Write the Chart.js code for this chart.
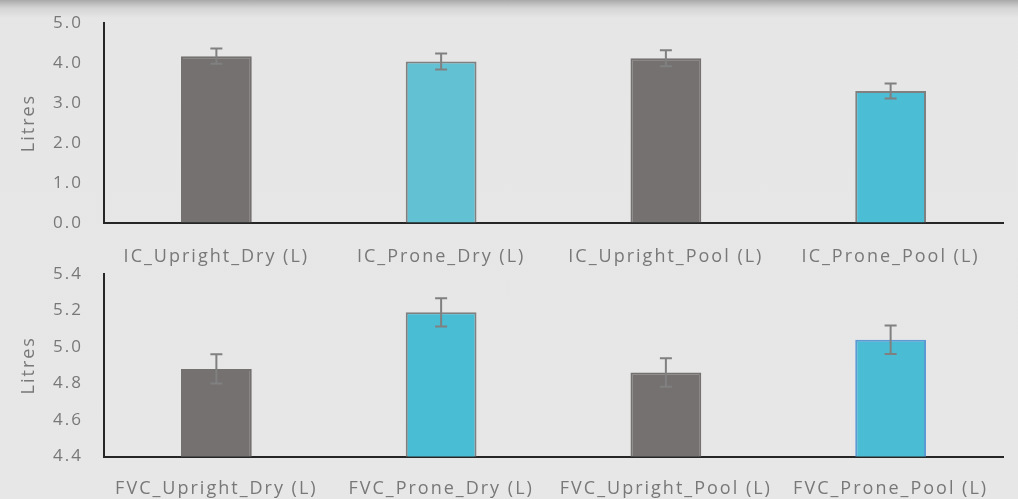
<!DOCTYPE html>
<html>
<head>
<meta charset="utf-8">
<script src="https://cdn.jsdelivr.net/npm/chart.js@4.4.0/dist/chart.umd.min.js"></script>
<style>
  html, body { margin: 0; padding: 0; }
  body {
    width: 1018px; height: 499px; overflow: hidden; position: relative;
    background: linear-gradient(to bottom, #a9a9a9 0px, #d4d4d4 8px, #e6e6e6 18px, #e7e7e7 100%);
  }
  .box { position: absolute; left: 0; width: 1018px; }
  #top-box { top: 0; height: 272px; z-index: 2; }
  #bottom-box { top: 262px; height: 237px; z-index: 1; }
</style>
</head>
<body>
<div class="box" id="top-box"><canvas id="ic-chart"></canvas></div>
<div class="box" id="bottom-box"><canvas id="fvc-chart"></canvas></div>
<script>
// --- dados ---
const icLabels = ['IC_Upright_Dry (L)', 'IC_Prone_Dry (L)', 'IC_Upright_Pool (L)', 'IC_Prone_Pool (L)'];
const icValues = [4.17, 4.04, 4.12, 3.30];
const icErrors = [0.19, 0.20, 0.20, 0.19];

const fvcLabels = ['FVC_Upright_Dry (L)', 'FVC_Prone_Dry (L)', 'FVC_Upright_Pool (L)', 'FVC_Prone_Pool (L)'];
const fvcValues = [4.88, 5.19, 4.86, 5.04];
const fvcErrors = [0.08, 0.077, 0.078, 0.078];

// --- estilos ---
const GRAY = '#757171';
const TEXT = '#787878';
const icFill = [GRAY, '#62c2d4', GRAY, '#4bbdd5'];
const icBorder = [GRAY, '#808080', GRAY, '#808080'];
const fvcFill = [GRAY, '#48bdd4', GRAY, '#4abdd4'];
const fvcBorder = [GRAY, '#808080', GRAY, '#5b9bd5'];

// espaçamento entre letras, como no original
const spacing = {
    id: 'spacing',
    beforeLayout(chart) { chart.ctx.letterSpacing = '2px'; },
    beforeDraw(chart) { chart.ctx.letterSpacing = '2px'; }
};

// plugin simples para desenhar barras de erro
const errorBars = {
    id: 'errorBars',
    afterDatasetsDraw(chart, args, opts) {
        const ctx = chart.ctx;
        const meta = chart.getDatasetMeta(0);
        const yScale = chart.scales.y;
        const values = chart.data.datasets[0].data;
        ctx.save();
        ctx.strokeStyle = '#808080';
        ctx.lineWidth = 2;
        meta.data.forEach((bar, i) => {
            const x = bar.x;
            const yTop = yScale.getPixelForValue(values[i] + opts.errors[i]);
            const yBot = yScale.getPixelForValue(values[i] - opts.errors[i]);
            ctx.beginPath();
            ctx.moveTo(x, yTop); ctx.lineTo(x, yBot);
            ctx.moveTo(x - 6, yTop); ctx.lineTo(x + 6, yTop);
            ctx.moveTo(x - 6, yBot); ctx.lineTo(x + 6, yBot);
            ctx.stroke();
        });
        ctx.restore();
    }
};

Chart.defaults.font.family = '"Open Sans", "Liberation Sans", sans-serif';
Chart.defaults.color = TEXT;

function buildChart(canvasId, labels, values, errors, fill, border, yOpts, pad, xHeight, xPad) {
    const ctx = document.getElementById(canvasId).getContext('2d');
    return new Chart(ctx, {
        type: 'bar',
        data: {
            labels: labels,
            datasets: [{
                data: values,
                backgroundColor: fill,
                borderColor: border,
                borderWidth: 2,
                barPercentage: 0.315,
                categoryPercentage: 1
            }]
        },
        options: {
            responsive: true,
            maintainAspectRatio: false,
            animation: false,
            layout: { padding: pad },
            plugins: {
                legend: { display: false },
                tooltip: { enabled: false },
                errorBars: { errors: errors }
            },
            scales: {
                x: {
                    grid: { display: false, drawTicks: false },
                    border: { display: true, color: '#262626', width: 2 },
                    ticks: { font: { size: 18 }, color: TEXT, padding: xPad, maxRotation: 0, autoSkip: false },
                    afterFit: (scale) => { scale.height = xHeight; }
                },
                y: Object.assign({
                    grid: { display: true, drawOnChartArea: false, drawTicks: true, tickLength: 21, color: 'rgba(0,0,0,0)' },
                    border: { display: true, color: '#262626', width: 2 },
                    title: { display: true, text: 'Litres', font: { size: 18 }, color: TEXT, padding: { top: 18, bottom: 0 } },
                    afterFit: (scale) => { scale.width = 104; }
                }, yOpts)
            }
        },
        plugins: [spacing, errorBars]
    });
}

buildChart('ic-chart', icLabels, icValues, icErrors, icFill, icBorder, {
    min: 0, max: 5,
    ticks: { stepSize: 1, font: { size: 17 }, color: TEXT, padding: 0, callback: v => v.toFixed(1) }
}, { top: 23, right: 15, left: 0, bottom: 0 }, 49, 23);

buildChart('fvc-chart', fvcLabels, fvcValues, fvcErrors, fvcFill, fvcBorder, {
    min: 4.4, max: 5.4,
    ticks: { stepSize: 0.2, font: { size: 17 }, color: TEXT, padding: 0, callback: v => v.toFixed(1) }
}, { top: 12, right: 15, left: 0, bottom: 0 }, 42.5, 22);
</script>
</body>
</html>
